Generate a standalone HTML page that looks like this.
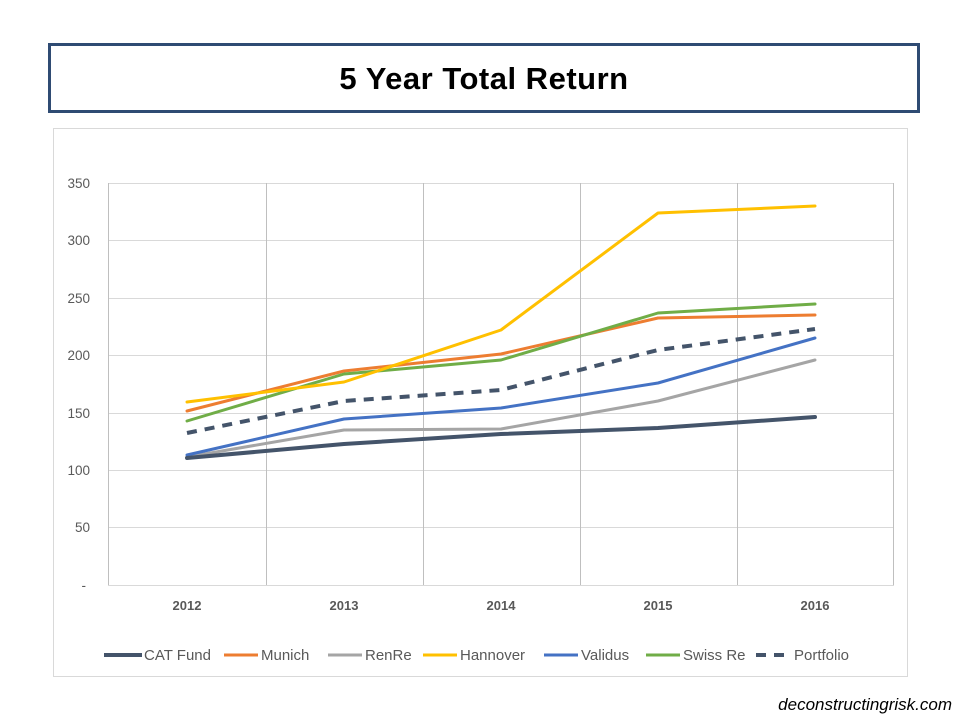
<!DOCTYPE html>
<html><head><meta charset="utf-8"><style>
body{margin:0;background:#fff;}
svg{display:block;font-family:"Liberation Sans",sans-serif;}
</style></head><body>
<svg width="960" height="720" viewBox="0 0 960 720">
<rect x="49.5" y="44.5" width="869" height="67" fill="#fff" stroke="#2f4b73" stroke-width="3"/>
<text x="484" y="89" text-anchor="middle" font-size="31" font-weight="bold" fill="#000" letter-spacing="0.5">5 Year Total Return</text>
<rect x="53.5" y="128.5" width="854" height="548" fill="#fff" stroke="#d9d9d9" stroke-width="1"/>
<g stroke="#d9d9d9" stroke-width="1">
<line x1="108" y1="183.5" x2="894" y2="183.5"/>
<line x1="108" y1="240.5" x2="894" y2="240.5"/>
<line x1="108" y1="298.5" x2="894" y2="298.5"/>
<line x1="108" y1="355.5" x2="894" y2="355.5"/>
<line x1="108" y1="413.5" x2="894" y2="413.5"/>
<line x1="108" y1="470.5" x2="894" y2="470.5"/>
<line x1="108" y1="527.5" x2="894" y2="527.5"/>
<line x1="108" y1="585.5" x2="894" y2="585.5"/>
</g>
<g stroke="#bfbfbf" stroke-width="1">
<line x1="108.5" y1="183" x2="108.5" y2="585"/>
<line x1="266.5" y1="183" x2="266.5" y2="585"/>
<line x1="423.5" y1="183" x2="423.5" y2="585"/>
<line x1="580.5" y1="183" x2="580.5" y2="585"/>
<line x1="737.5" y1="183" x2="737.5" y2="585"/>
<line x1="893.5" y1="183" x2="893.5" y2="585"/>
</g>
<g font-size="13.5" fill="#595959" text-anchor="end">
<text x="90" y="188">350</text><text x="90" y="245">300</text><text x="90" y="303">250</text>
<text x="90" y="360">200</text><text x="90" y="418">150</text><text x="90" y="475">100</text>
<text x="90" y="532">50</text><text x="86" y="590">-</text>
</g>
<g font-size="13" font-weight="bold" fill="#595959" text-anchor="middle">
<text x="187" y="610">2012</text><text x="344" y="610">2013</text><text x="501" y="610">2014</text>
<text x="658" y="610">2015</text><text x="815" y="610">2016</text>
</g>
<g fill="none" stroke-width="3" stroke-linejoin="round" stroke-linecap="round">
<polyline stroke="#a5a5a5" points="187,457 344,430 501,429 658,401 815,360"/>
<polyline stroke="#4472c4" points="187,455 344,419 501,408 658,383 815,338"/>
<polyline stroke="#ed7d31" points="187,411 344,371 501,354 658,318 815,315"/>
<polyline stroke="#70ad47" points="187,421 344,374 501,360 658,313 815,304"/>
<polyline stroke="#ffc000" points="187,402 344,382 501,330 658,213 815,206"/>
<polyline stroke="#44546a" stroke-width="4" points="187,458 344,444 501,434 658,428 815,417"/>
<polyline stroke="#44546a" stroke-width="4" stroke-dasharray="10,8" stroke-linecap="butt" points="187,433 344,401 501,390 658,350 815,329"/>
</g>
<g font-size="15" fill="#595959">
<line x1="104" y1="655" x2="142" y2="655" stroke="#44546a" stroke-width="4"/><text x="144" y="660">CAT Fund</text>
<line x1="224" y1="655" x2="258" y2="655" stroke="#ed7d31" stroke-width="3"/><text x="261" y="660">Munich</text>
<line x1="328" y1="655" x2="362" y2="655" stroke="#a5a5a5" stroke-width="3"/><text x="365" y="660">RenRe</text>
<line x1="423" y1="655" x2="457" y2="655" stroke="#ffc000" stroke-width="3"/><text x="460" y="660">Hannover</text>
<line x1="544" y1="655" x2="578" y2="655" stroke="#4472c4" stroke-width="3"/><text x="581" y="660">Validus</text>
<line x1="646" y1="655" x2="680" y2="655" stroke="#70ad47" stroke-width="3"/><text x="683" y="660">Swiss Re</text>
<line x1="756" y1="655" x2="790" y2="655" stroke="#44546a" stroke-width="4" stroke-dasharray="10,8"/><text x="794" y="660">Portfolio</text>
</g>
<text x="952" y="710" text-anchor="end" font-size="17" font-style="italic" fill="#000">deconstructingrisk.com</text>
</svg>
</body></html>
